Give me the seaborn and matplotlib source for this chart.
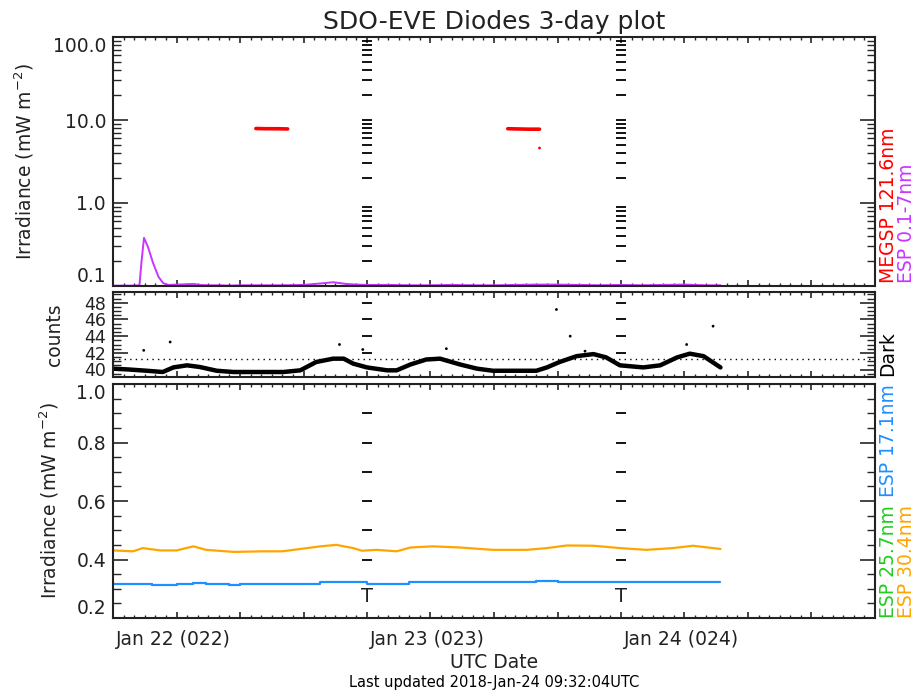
import matplotlib
matplotlib.use("Agg")
import numpy as np
import pandas as pd
import matplotlib.pyplot as plt
import matplotlib.ticker as mticker
import seaborn as sns

# --- DATA (x = hours since 2018-01-22 00:00 UTC) ---
esp_q_hours = [0, 1, 2, 2.5, 2.7, 2.93, 3.3, 3.8, 4.3, 4.75, 5.2, 6, 7, 7.6, 8.2, 9, 10, 11, 12,
               14, 16, 18, 19.5, 20.8, 22, 23, 24, 26, 28, 30, 32, 34, 36, 38, 40, 42, 44, 46,
               48, 50, 52, 54, 56, 57.4]
esp_q_vals = [0.101, 0.101, 0.101, 0.102, 0.2, 0.38, 0.296, 0.187, 0.129, 0.108, 0.103, 0.104,
              0.105, 0.106, 0.103, 0.102, 0.102, 0.101, 0.102, 0.102, 0.102, 0.103, 0.107, 0.111,
              0.106, 0.104, 0.103, 0.103, 0.102, 0.102, 0.103, 0.102, 0.102, 0.103, 0.104, 0.104,
              0.103, 0.102, 0.103, 0.102, 0.103, 0.104, 0.102, 0.102]

megs_hours_1 = [13.5, 14.5, 15.5, 16.5]
megs_vals_1 = [7.9, 7.85, 7.85, 7.8]
megs_hours_2 = [37.3, 38.3, 39.3, 40.3]
megs_vals_2 = [7.85, 7.8, 7.75, 7.75]
megs_out_hours = [40.3]
megs_out_vals = [4.6]

dark_hours = [0, 1.5, 3.2, 4.7, 5.7, 7.0, 8.2, 9.8, 11.4, 13.5, 16.1, 17.7, 19.2, 20.8, 21.8,
              22.7, 24.0, 25.9, 26.8, 28.1, 29.6, 30.9, 32.8, 34.4, 35.9, 38, 40.0, 41.0, 42.2,
              43.8, 45.4, 46.6, 47.9, 50.1, 51.7, 53.3, 54.5, 55.8, 57.4]
dark_counts = [40.1, 40.0, 39.85, 39.7, 40.25, 40.5, 40.3, 39.85, 39.7, 39.7, 39.7, 39.9, 40.9,
               41.3, 41.3, 40.7, 40.25, 39.9, 39.9, 40.6, 41.2, 41.3, 40.6, 40.1, 39.85, 39.85,
               39.85, 40.25, 40.9, 41.6, 41.85, 41.45, 40.5, 40.25, 40.5, 41.45, 41.9, 41.6, 40.25]
dark_out_hours = [2.9, 5.4, 21.4, 23.6, 31.5, 41.9, 43.2, 44.6, 54.2, 56.7]
dark_out_counts = [42.3, 43.3, 43.0, 42.4, 42.5, 47.2, 44.0, 42.2, 43.0, 45.2]
dark_ref_level = 41.2

esp304_hours = [0, 1.9, 2.8, 4.5, 6.0, 7.6, 8.8, 11.4, 14.2, 16.0, 17.7, 19.6, 21.1, 22.7, 23.5,
                24.9, 26.8, 28.1, 30.2, 32.8, 35.9, 39.1, 41.0, 42.9, 45.4, 47.9, 50.4, 52.9,
                54.8, 57.4]
esp304_vals = [0.431, 0.428, 0.439, 0.431, 0.431, 0.445, 0.433, 0.426, 0.428, 0.428, 0.436,
               0.445, 0.450, 0.439, 0.430, 0.433, 0.428, 0.441, 0.445, 0.441, 0.433, 0.433,
               0.439, 0.448, 0.447, 0.439, 0.433, 0.439, 0.447, 0.436]

esp171_hours = [0, 3.5, 3.7, 6.0, 7.6, 8.8, 11.0, 12.0, 19.6, 24.0, 28.0, 35.0, 40.0, 42.0, 57.4]
esp171_vals = [0.317, 0.317, 0.312, 0.317, 0.321, 0.317, 0.312, 0.317, 0.322, 0.317, 0.322,
               0.322, 0.325, 0.324, 0.323]

day_starts = [0, 24, 48]
day_labels = ["Jan 22 (022)", "Jan 23 (023)", "Jan 24 (024)"]
day_bounds = [24, 48]

top_ticks = [0.1, 1, 10, 100]
top_tick_labels = ['0.1', '1.0', '10.0', '100.0']
bot_ticks = [0.2, 0.4, 0.6, 0.8, 1.0]

# dashes drawn along the day boundaries in each panel
top_dash_vals = [0.2, 0.3, 0.4, 0.5, 0.6, 0.7, 0.8, 0.9, 2, 3, 4, 5, 6, 7, 8, 9, 10,
                 20, 30, 40, 50, 60, 70, 80, 90, 100]
mid_dash_vals = [42, 44, 46, 48]
bot_dash_vals = [0.4, 0.5, 0.6, 0.7, 0.8, 0.9]
bot_t_val = 0.273

# --- STYLE ---
sns.set_theme(style="ticks")
plt.rcParams['font.family'] = ['DejaVu Sans']
plt.rcParams['axes.linewidth'] = 1.5
FS = 13.5
TXT = '#222222'

C_RED = '#ff0000'
C_PURPLE = '#cc33ff'
C_GREEN = '#22cc22'
C_BLUE = '#1e90ff'
C_ORANGE = '#ffa500'

fig = plt.figure(figsize=(9.24, 6.9), dpi=100)
W = 924.0
H = 690.0


def add_panel(top_px, bottom_px):
    left, right = 113, 875
    return fig.add_axes([left / W, 1 - bottom_px / H, (right - left) / W, (bottom_px - top_px) / H])


ax1 = add_panel(37, 286)
ax2 = add_panel(292, 377)
ax3 = add_panel(384, 618)


def style_axes(ax, labelsize):
    ax.set_xlim(0, 72)
    ax.xaxis.set_major_locator(mticker.MultipleLocator(6))
    ax.xaxis.set_minor_locator(mticker.MultipleLocator(1))
    ax.tick_params(axis='x', which='major', direction='in', length=4, width=1.2,
                   top=True, bottom=True, labelbottom=False)
    ax.tick_params(axis='x', which='minor', direction='in', length=2, width=1.0,
                   top=True, bottom=True)
    ax.tick_params(axis='y', which='major', direction='in', length=11, width=1.2,
                   left=True, right=True, labelsize=labelsize, pad=5, labelcolor=TXT)
    ax.tick_params(axis='y', which='minor', direction='in', length=5.5, width=1.0,
                   left=True, right=True)
    for s in ax.spines.values():
        s.set_visible(True)
        s.set_linewidth(1.5)
        s.set_color(TXT)
    ax.set_xlabel('')
    ax.grid(False)


def pin_edge_labels(ax):
    # keep the first/last tick label inside the panel, as the original does
    labels = ax.get_yticklabels()
    labels[0].set_va('bottom')
    labels[-1].set_va('top')


# --- TOP PANEL: log irradiance ---
sns.lineplot(x=esp_q_hours, y=esp_q_vals, ax=ax1, color=C_PURPLE, lw=1.4)
sns.lineplot(x=megs_hours_1, y=megs_vals_1, ax=ax1, color=C_RED, lw=2.6)
sns.lineplot(x=megs_hours_2, y=megs_vals_2, ax=ax1, color=C_RED, lw=2.6)
sns.scatterplot(x=megs_out_hours, y=megs_out_vals, ax=ax1, color=C_RED, s=4, edgecolor='none')
ax1.set_yscale('log')
ax1.set_ylim(0.1, 100)
ax1.yaxis.set_major_locator(mticker.FixedLocator(top_ticks))
ax1.yaxis.set_major_formatter(mticker.FixedFormatter(top_tick_labels))
ax1.yaxis.set_minor_locator(mticker.LogLocator(base=10, subs=np.arange(2, 10), numticks=20))
ax1.yaxis.set_minor_formatter(mticker.NullFormatter())
for b in day_bounds:
    sns.scatterplot(x=[b] * len(top_dash_vals), y=top_dash_vals, ax=ax1, marker='_',
                    s=45, color='black', linewidth=1.3)
style_axes(ax1, FS)
pin_edge_labels(ax1)
ax1.set_ylabel('Irradiance (mW m$^{-2}$)', fontsize=FS, color=TXT)
ax1.yaxis.set_label_coords(-0.101, 0.5)
ax1.set_title('SDO-EVE Diodes 3-day plot', fontsize=18, pad=6, color=TXT)

# --- MIDDLE PANEL: dark counts ---
sns.lineplot(x=dark_hours, y=dark_counts, ax=ax2, color='black', lw=3.2)
sns.scatterplot(x=dark_out_hours, y=dark_out_counts, ax=ax2, color='black', s=4, edgecolor='none')
ax2.axhline(dark_ref_level, color='black', lw=1.0, ls=(0, (1, 3)))
for b in day_bounds:
    sns.scatterplot(x=[b] * len(mid_dash_vals), y=mid_dash_vals, ax=ax2, marker='_',
                    s=45, color='black', linewidth=1.3)
ax2.set_ylim(39.1, 49.3)
ax2.yaxis.set_major_locator(mticker.FixedLocator([40, 42, 44, 46, 48]))
ax2.yaxis.set_minor_locator(mticker.MultipleLocator(0.5))
style_axes(ax2, 12.5)
ax2.set_ylabel('counts', fontsize=FS, color=TXT)
ax2.yaxis.set_label_coords(-0.064, 0.5)

# --- BOTTOM PANEL: linear irradiance ---
sns.lineplot(x=esp304_hours, y=esp304_vals, ax=ax3, color=C_ORANGE, lw=1.6)
sns.lineplot(x=esp171_hours, y=esp171_vals, ax=ax3, color=C_BLUE, lw=1.6, drawstyle='steps-post')
for b in day_bounds:
    sns.scatterplot(x=[b] * len(bot_dash_vals), y=bot_dash_vals, ax=ax3, marker='_',
                    s=45, color='black', linewidth=1.3)
    ax3.text(b, bot_t_val, 'T', ha='center', va='center', fontsize=14, color=TXT)
ax3.set_ylim(0.2, 1.0)
ax3.yaxis.set_major_locator(mticker.FixedLocator(bot_ticks))
ax3.yaxis.set_major_formatter(mticker.FormatStrFormatter('%.1f'))
ax3.yaxis.set_minor_locator(mticker.MultipleLocator(0.05))
style_axes(ax3, FS)
pin_edge_labels(ax3)
ax3.set_ylabel('Irradiance (mW m$^{-2}$)', fontsize=FS, color=TXT)
ax3.yaxis.set_label_coords(-0.068, 0.5)
for d, lab in zip(day_starts, day_labels):
    ax3.text(d + 0.25, -0.09, lab, transform=ax3.get_xaxis_transform(),
             ha='left', va='center', fontsize=FS, color=TXT)

# --- right-hand channel labels ---
fig.text(888 / W, 1 - 283 / H, 'MEGSP 121.6nm', color=C_RED, rotation=90,
         ha='center', va='bottom', fontsize=FS)
fig.text(906 / W, 1 - 283 / H, 'ESP 0.1-7nm', color=C_PURPLE, rotation=90,
         ha='center', va='bottom', fontsize=FS)
fig.text(888 / W, 1 - 376 / H, 'Dark', color='black', rotation=90,
         ha='center', va='bottom', fontsize=FS)
fig.text(888 / W, 1 - 618 / H, 'ESP 25.7nm', color=C_GREEN, rotation=90,
         ha='center', va='bottom', fontsize=FS)
fig.text(888 / W, 1 - 497 / H, 'ESP 17.1nm', color=C_BLUE, rotation=90,
         ha='center', va='bottom', fontsize=FS)
fig.text(906 / W, 1 - 618 / H, 'ESP 30.4nm', color=C_ORANGE, rotation=90,
         ha='center', va='bottom', fontsize=FS)

# --- footer ---
fig.text(494 / W, 1 - 662 / H, 'UTC Date', ha='center', va='center', fontsize=FS, color=TXT)
fig.text(494 / W, 1 - 682 / H, 'Last updated 2018-Jan-24 09:32:04UTC', ha='center',
         va='center', fontsize=10.5, color='black')

fig.savefig('out.png', dpi=100)
